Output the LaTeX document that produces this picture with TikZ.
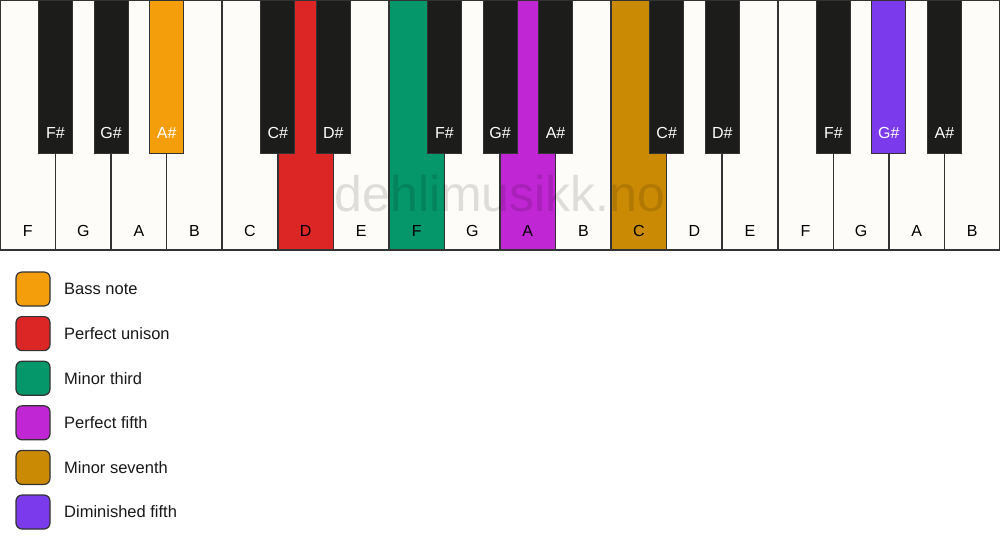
\documentclass[tikz,border=0pt]{standalone}
\usepackage{fontspec}
\setmainfont{Liberation Sans}
\definecolor{wk}{HTML}{FDFCF9}
\definecolor{bk}{HTML}{1C1C1A}
\definecolor{edge}{HTML}{333333}
\definecolor{corange}{HTML}{F59E0B}
\definecolor{cred}{HTML}{DC2626}
\definecolor{cgreen}{HTML}{059669}
\definecolor{cpurple}{HTML}{C026D3}
\definecolor{cgold}{HTML}{CA8A04}
\definecolor{cviolet}{HTML}{7C3AED}
\tikzset{
  whitekey/.style={draw=edge, line width=1.5pt, minimum width=55.556pt, minimum height=250pt, inner sep=0pt, outer sep=0pt},
  blackkey/.style={draw=edge, line width=1pt, minimum width=34pt, minimum height=153pt, inner sep=0pt, outer sep=0pt},
  keytext/.style={font=\fontsize{16}{19}\selectfont, inner sep=0pt},
  legbox/.style={draw=edge, line width=1.2pt, rounded corners=6pt, minimum width=34pt, minimum height=34pt, inner sep=0pt},
  legtext/.style={font=\fontsize{16.5}{19}\selectfont, text=black!90, anchor=west, inner sep=0pt},
  watermark/.style={font=\fontsize{50}{60}\selectfont, text=black, opacity=0.12, inner sep=0pt, anchor=base}
}
\begin{document}
\begin{tikzpicture}[x=1pt,y=-1pt]
\useasboundingbox (0,0) rectangle (1000,550);
\fill[white] (0,0) rectangle (1000,550);
% white keys
\foreach \n/\c [count=\i from 0] in {F/wk,G/wk,A/wk,B/wk,C/wk,D/cred,E/wk,F/cgreen,G/wk,A/cpurple,B/wk,C/cgold,D/wk,E/wk,F/wk,G/wk,A/wk,B/wk} {
  \node[whitekey, fill=\c] (w\i) at ({(\i+0.5)*55.5556}, 125) {};
  \node[keytext, text=black, anchor=base] (wl\i) at ({(\i+0.5)*55.5556}, 236) {\n};
}
% watermark
\node[watermark] (wm) at (500, 211) {dehlimusikk.no};
% black keys
\foreach \b/\n/\c [count=\j] in {1/F/bk,2/G/bk,3/A/corange,5/C/bk,6/D/bk,8/F/bk,9/G/bk,10/A/bk,12/C/bk,13/D/bk,15/F/bk,16/G/cviolet,17/A/bk} {
  \node[blackkey, fill=\c] (b\j) at ({\b*55.5556}, 76.5) {};
  \node[keytext, text=white, anchor=base] (bl\j) at ({\b*55.5556}, 138) {\n\#};
}
% outer bottom line
\draw[edge, line width=2pt] (w0.south west) -- (w17.south east);
% legend
\foreach \c/\t [count=\k from 0] in {corange/Bass note,cred/Perfect unison,cgreen/Minor third,cpurple/Perfect fifth,cgold/Minor seventh,cviolet/Diminished fifth} {
  \node[legbox, fill=\c] (l\k) at (33, {289+\k*44.6}) {};
  \node[legtext] (lt\k) at (64, {289+\k*44.6}) {\t};
}
\end{tikzpicture}
\end{document}
